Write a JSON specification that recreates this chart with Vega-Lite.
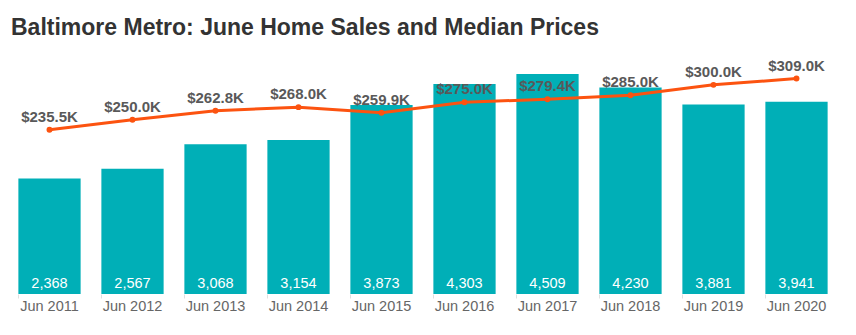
{
  "$schema": "https://vega.github.io/schema/vega-lite/v6.json",
  "width": 830,
  "height": 244,
  "autosize": "none",
  "padding": {"left": 8, "right": 18, "top": 50, "bottom": 41},
  "background": "white",
  "config": {"view": {"stroke": null}, "font": "Liberation Sans"},
  "title": {
    "text": "Baltimore Metro: June Home Sales and Median Prices",
    "anchor": "start",
    "fontSize": 23,
    "fontWeight": "bold",
    "color": "#333333",
    "font": "Liberation Sans",
    "baseline": "alphabetic",
    "offset": 15,
    "dx": 3,
    "dy": 23
  },
  "data": {
    "values": [
      {"month": "Jun 2011", "sales": 2368, "price": 235500},
      {"month": "Jun 2012", "sales": 2567, "price": 250000},
      {"month": "Jun 2013", "sales": 3068, "price": 262800},
      {"month": "Jun 2014", "sales": 3154, "price": 268000},
      {"month": "Jun 2015", "sales": 3873, "price": 259900},
      {"month": "Jun 2016", "sales": 4303, "price": 275000},
      {"month": "Jun 2017", "sales": 4509, "price": 279400},
      {"month": "Jun 2018", "sales": 4230, "price": 285000},
      {"month": "Jun 2019", "sales": 3881, "price": 300000},
      {"month": "Jun 2020", "sales": 3941, "price": 309000}
    ]
  },
  "transform": [
    {"calculate": "'$' + format(datum.price / 1000, '.1f') + 'K'", "as": "price_label"}
  ],
  "encoding": {
    "x": {
      "field": "month",
      "type": "ordinal",
      "sort": null,
      "scale": {"paddingInner": 0.25, "paddingOuter": 0.125},
      "axis": {
        "title": null,
        "labelAngle": 0,
        "domain": false,
        "bandPosition": 0,
        "tickColor": "#e0e0e0",
        "tickSize": 4,
        "labelPadding": 1.5,
        "labelColor": "#666666",
        "labelFontSize": 14.5,
        "labelFont": "Liberation Sans",
        "grid": false
      }
    }
  },
  "layer": [
    {
      "encoding": {
        "y": {"field": "sales", "type": "quantitative", "scale": {"domain": [0, 5000]}, "axis": null}
      },
      "layer": [
        {"mark": {"type": "bar", "color": "#00AFB7"}},
        {
          "mark": {"type": "text", "color": "white", "fontSize": 14.5, "baseline": "alphabetic", "dy": -6, "font": "Liberation Sans"},
          "encoding": {
            "y": {"datum": 0, "type": "quantitative"},
            "text": {"field": "sales", "type": "quantitative", "format": ","}
          }
        }
      ]
    },
    {
      "encoding": {
        "y": {"field": "price", "type": "quantitative", "scale": {"domain": [0, 350000]}, "axis": null}
      },
      "layer": [
        {"mark": {"type": "line", "color": "#FC5310", "strokeWidth": 3}},
        {"mark": {"type": "point", "filled": true, "color": "#FC5310", "size": 35, "opacity": 1}},
        {
          "mark": {"type": "text", "color": "#595959", "fontSize": 15, "fontWeight": "bold", "baseline": "alphabetic", "dy": -8, "font": "Liberation Sans"},
          "encoding": {"text": {"field": "price_label", "type": "nominal"}}
        }
      ]
    }
  ],
  "resolve": {"scale": {"y": "independent"}}
}
